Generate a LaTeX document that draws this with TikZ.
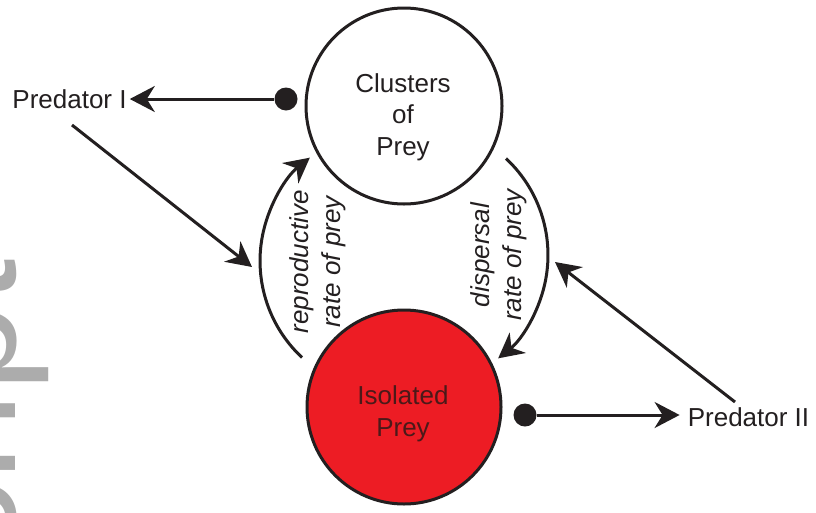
\documentclass[tikz,border=0pt]{standalone}
\usepackage{fontspec}
\setmainfont{Liberation Sans}
\usetikzlibrary{arrows.meta}
\definecolor{ink}{RGB}{35,31,32}
\definecolor{preyred}{RGB}{237,28,36}
\definecolor{wmgray}{RGB}{172,172,172}
\definecolor{redink}{RGB}{75,25,25}
\begin{document}
\begin{tikzpicture}[x=1pt,y=1pt,
  every node/.style={font=\fontsize{26}{31.5}\selectfont, text=ink},
  ring/.style={circle, draw=ink, line width=3pt, inner sep=0pt},
  dot/.style={circle, fill=ink, inner sep=0pt, minimum size=23pt},
  arr/.style={draw=ink, line width=3pt, -{Stealth[length=25pt,width=26pt,inset=8pt]}},
  lbl/.style={inner sep=0pt, align=center},
  itl/.style={font=\fontsize{26}{31.5}\selectfont\itshape},
  predlbl/.style={inner xsep=3pt, inner ysep=0pt},
]
\useasboundingbox (0,0) rectangle (816,-512);
\fill[white] (0,0) rectangle (816,-512);
\begin{scope}
  \clip (0,0) rectangle (816,-512);
  \node[inner sep=0pt, anchor=base west, rotate=90, text=wmgray,
        font=\fontsize{160}{160}\selectfont] (wm) at (16,-641.6) {script};
\end{scope}

% circles
\node[ring, fill=white, minimum size=196pt] (clusters) at (404,-106) {};
\node[ring, fill=preyred, minimum size=194pt] (isolated) at (404,-407) {};
\node[lbl] (clusterstext) at (403,-117) {Clusters\\of\\Prey};
\node[lbl, text=redink] (isolatedtext) at (403,-414) {Isolated\\Prey};

% predators
\node[predlbl] (pred1) at (69.5,-99.5) {Predator I};
\node[predlbl] (pred2) at (748.5,-417) {Predator II};
\node[dot] (dot1) at (286,-99) {};
\node[dot] (dot2) at (525,-415) {};
\draw[arr] (dot1) -- (dot1 -| pred1.east);
\draw[arr, shorten >=5pt] (dot2) -- (dot2 -| pred2.west);

% diagonal arrows
\coordinate (from1) at (72,-125);
\coordinate (to1) at (252,-267);
\draw[arr] (from1) -- (to1);
\coordinate (from2) at (735,-402);
\coordinate (to2) at (555,-262);
\draw[arr] (from2) -- (to2);

% curved rate arrows
\coordinate (reprostart) at (302,-357.5);
\draw[arr] (reprostart) arc[start angle=227, end angle=128.5, radius=132];
\coordinate (dispstart) at (506,-158.5);
\draw[arr] (dispstart) arc[start angle=47, end angle=-51.5, radius=132];

% rate labels
\node[lbl, itl, rotate=90] (reprolabel) at (318,-262) {reproductive\\rate of prey};
\node[lbl, itl, rotate=90] (displabel) at (499,-255) {dispersal\\rate of prey};
\end{tikzpicture}
\end{document}
